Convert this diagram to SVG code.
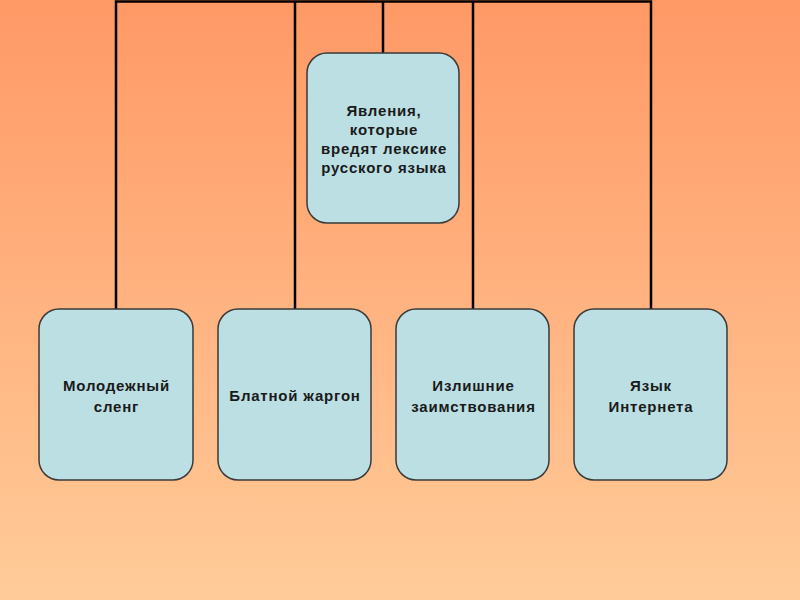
<svg xmlns="http://www.w3.org/2000/svg" width="800" height="600" viewBox="0 0 800 600">
  <defs>
    <linearGradient id="bg" x1="0" y1="0" x2="0" y2="1">
      <stop offset="0" stop-color="#FF9966"/>
      <stop offset="1" stop-color="#FFCC99"/>
    </linearGradient>
  </defs>
  <style>
    .box { fill: #BBDFE3; stroke: #3a3a3a; stroke-width: 1.5; }
    .conn { fill: none; stroke: #000; stroke-width: 2.5; }
    .lbl { font-family: "Liberation Sans", Arial, sans-serif; font-size: 15px; font-weight: bold; fill: #1a1a1a; text-anchor: middle; letter-spacing: 0.8px; }
  </style>
  <rect x="0" y="0" width="800" height="600" fill="url(#bg)"/>
  <g id="connectors">
    <path class="conn" d="M116,310 V1.5 H651 V310"/>
    <path class="conn" d="M295,1.5 V310"/>
    <path class="conn" d="M473,1.5 V310"/>
    <path class="conn" d="M383,1.5 V53"/>
  </g>
  <g id="root">
    <rect class="box" x="307" y="53" width="152" height="170" rx="20"/>
    <text class="lbl" x="384" y="116">Явления,</text>
    <text class="lbl" x="384" y="135">которые</text>
    <text class="lbl" x="384" y="154">вредят лексике</text>
    <text class="lbl" x="384" y="173">русского языка</text>
  </g>
  <g id="slang">
    <rect class="box" x="39" y="309" width="154" height="171" rx="20"/>
    <text class="lbl" x="116.5" y="391">Молодежный</text>
    <text class="lbl" x="116.5" y="412">сленг</text>
  </g>
  <g id="jargon">
    <rect class="box" x="218" y="309" width="153" height="171" rx="20"/>
    <text class="lbl" x="295" y="401">Блатной жаргон</text>
  </g>
  <g id="borrowings">
    <rect class="box" x="396" y="309" width="153" height="171" rx="20"/>
    <text class="lbl" x="473.5" y="391">Излишние</text>
    <text class="lbl" x="473.5" y="412">заимствования</text>
  </g>
  <g id="internet">
    <rect class="box" x="574" y="309" width="153" height="171" rx="20"/>
    <text class="lbl" x="651" y="391">Язык</text>
    <text class="lbl" x="651" y="412">Интернета</text>
  </g>
</svg>
